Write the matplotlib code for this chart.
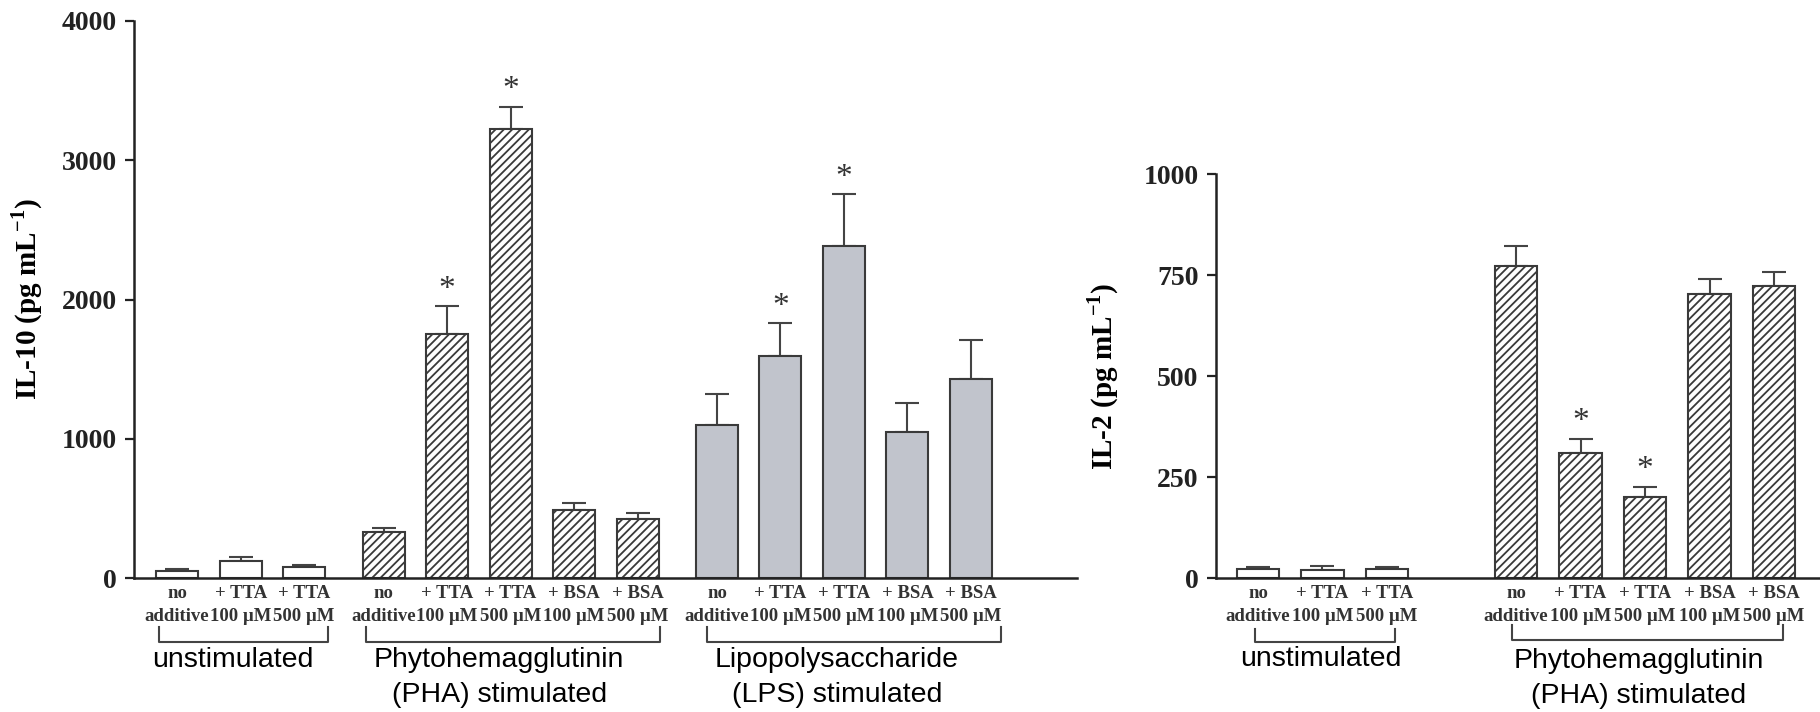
import numpy as np
import matplotlib
matplotlib.use("Agg")
import matplotlib.pyplot as plt
from matplotlib.transforms import blended_transform_factory

# IL-10 panel (pg/mL)
il10_labels = ["no\nadditive", "+ TTA\n100 \u00b5M", "+ TTA\n500 \u00b5M",
               "no\nadditive", "+ TTA\n100 \u00b5M", "+ TTA\n500 \u00b5M", "+ BSA\n100 \u00b5M", "+ BSA\n500 \u00b5M",
               "no\nadditive", "+ TTA\n100 \u00b5M", "+ TTA\n500 \u00b5M", "+ BSA\n100 \u00b5M", "+ BSA\n500 \u00b5M"]
il10_vals = [55, 122, 79, 330, 1756, 3224, 488, 426, 1100, 1596, 2383, 1048, 1431]
il10_err = [10, 29, 19, 31, 199, 162, 55, 43, 225, 237, 375, 213, 280]
il10_star = [False, False, False, False, True, True, False, False, False, True, True, False, False]
il10_group = [0, 0, 0, 1, 1, 1, 1, 1, 2, 2, 2, 2, 2]

# IL-2 panel (pg/mL)
il2_labels = ["no\nadditive", "+ TTA\n100 \u00b5M", "+ TTA\n500 \u00b5M",
              "no\nadditive", "+ TTA\n100 \u00b5M", "+ TTA\n500 \u00b5M", "+ BSA\n100 \u00b5M", "+ BSA\n500 \u00b5M"]
il2_vals = [22, 20, 24, 773, 309, 202, 704, 723]
il2_err = [6, 10, 4, 49, 37, 25, 38, 36]
il2_star = [False, False, False, False, True, True, False, False]
il2_group = [0, 0, 0, 1, 1, 1, 1, 1]

plt.rcParams['font.family'] = ['Liberation Serif', 'DejaVu Serif']
plt.rcParams['mathtext.fontset'] = 'custom'
plt.rcParams['mathtext.rm'] = 'Liberation Serif:bold'
plt.rcParams['mathtext.bf'] = 'Liberation Serif:bold'
plt.rcParams['hatch.linewidth'] = 1.3
plt.rcParams['hatch.color'] = '#333333'

W, H = 1820, 712
fig = plt.figure(figsize=(W / 100, H / 100), dpi=100)

edge = '#3a3a3a'
styles = {0: dict(color='white', hatch=None),
          1: dict(color='white', hatch='////'),
          2: dict(color='#c1c4cc', hatch=None)}


def panel(rect, xpos, vals, errs, stars, groups, labels, xlim, ylim, yticks, ylabel, ylabel_x):
    ax = fig.add_axes(rect)
    for x, v, g in zip(xpos, vals, groups):
        st = styles[g]
        ax.bar(x, v, width=0.66, color=st['color'], hatch=st['hatch'],
               edgecolor=edge, linewidth=1.5, zorder=2)
    ax.errorbar(xpos, vals, yerr=[np.zeros(len(vals)), errs], fmt='none',
                ecolor='#444444', elinewidth=1.5, capsize=8.5, capthick=1.5, zorder=1)
    for x, v, e, s in zip(xpos, vals, errs, stars):
        if s:
            ax.annotate('*', (x, v + e), xytext=(0, 1), textcoords='offset points',
                        ha='center', va='bottom', fontsize=24, color='#333333')
    ax.set_xlim(*xlim)
    ax.set_ylim(*ylim)
    ax.set_yticks(yticks)
    ax.set_yticklabels([str(t) for t in yticks], fontsize=20, fontweight='bold', color='#222222')
    ax.set_xticks(xpos)
    ax.set_xticklabels(labels, fontsize=13.5, fontweight='bold', color='#333333', linespacing=1.45)
    ax.tick_params(axis='x', length=0, pad=5)
    ax.tick_params(axis='y', length=6.5, width=1.6, pad=6, color='#222222')
    for s in ['top', 'right']:
        ax.spines[s].set_visible(False)
    for s in ['left', 'bottom']:
        ax.spines[s].set_linewidth(1.8)
        ax.spines[s].set_color('#222222')
    ax.set_ylabel(ylabel, fontsize=21, fontweight='bold')
    ax.yaxis.set_label_coords(ylabel_x, 0.5)
    return ax


def bracket(ax, x0, x1, text, text_x, ytop=627, ybot=642, text_y=647):
    # bracket under a group of bars, y given in figure pixels from the top
    tr = blended_transform_factory(ax.transData, fig.transFigure)
    f = lambda y: 1 - y / H
    ax.plot([x0, x0, x1, x1], [f(ytop), f(ybot), f(ybot), f(ytop)], transform=tr,
            color='#444444', lw=1.5, clip_on=False)
    ax.text(text_x, f(text_y), text, transform=tr, ha='center', va='top',
            fontsize=20.5, family='Liberation Sans', linespacing=1.45, color='black')


# left panel
pos_l = [0, 1, 2, 3.25, 4.25, 5.25, 6.25, 7.25, 8.5, 9.5, 10.5, 11.5, 12.5]
ax1 = panel([134 / W, 1 - 578.3 / H, (1077 - 134) / W, 557.3 / H], pos_l,
            il10_vals, il10_err, il10_star, il10_group, il10_labels,
            (-0.68, 14.17), (0, 4000), [0, 1000, 2000, 3000, 4000],
            r'IL-10 (pg mL$^{\mathbf{-1}}$)', -0.094)
bracket(ax1, -0.28, 2.38, "unstimulated", 0.87)
bracket(ax1, 2.98, 7.6, "Phytohemagglutinin\n(PHA) stimulated", 5.07)
bracket(ax1, 8.34, 12.98, "Lipopolysaccharide\n(LPS) stimulated", 10.39)

# right panel
pos_r = [0, 1, 2, 4, 5, 6, 7, 8]
ax2 = panel([1216 / W, 1 - 578.3 / H, (W - 1216) / W, 404 / H], pos_r,
            il2_vals, il2_err, il2_star, il2_group, il2_labels,
            (-0.65, 8.71), (0, 1000), [0, 250, 500, 750, 1000],
            r'IL-2 (pg mL$^{\mathbf{-1}}$)', -0.157)
bracket(ax2, -0.05, 2.13, "unstimulated", 0.97, ytop=629, text_y=646)
bracket(ax2, 3.93, 8.14, "Phytohemagglutinin\n(PHA) stimulated", 5.9, ytop=625, ybot=640, text_y=648)

fig.savefig('out.png', dpi=100)
